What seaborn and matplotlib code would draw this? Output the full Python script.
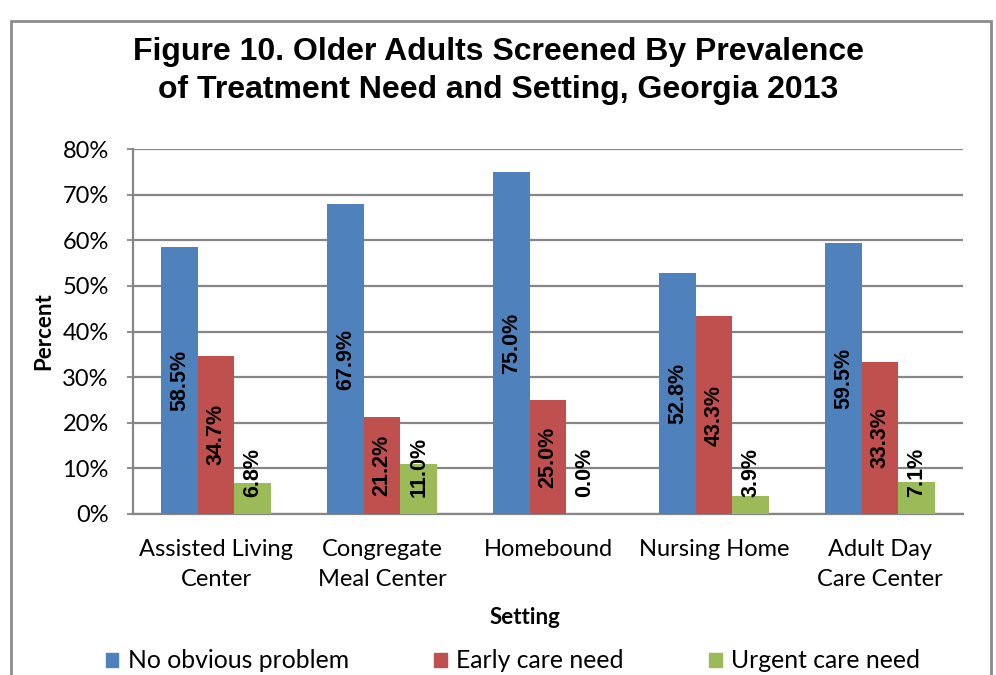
import matplotlib
matplotlib.use("Agg")
import matplotlib.pyplot as plt
from matplotlib.patches import Rectangle
import seaborn as sns
import pandas as pd

settings = ["Assisted Living\nCenter", "Congregate\nMeal Center", "Homebound",
            "Nursing Home", "Adult Day\nCare Center"]
no_problem = [58.5, 67.9, 75.0, 52.8, 59.5]
early_care = [34.7, 21.2, 25.0, 43.3, 33.3]
urgent_care = [6.8, 11.0, 0.0, 3.9, 7.1]
series_names = ["No obvious problem", "Early care need", "Urgent care need"]
colors = ["#4F81BD", "#C0504D", "#9BBB59"]
y_ticks = [0, 10, 20, 30, 40, 50, 60, 70, 80]

rows = []
for name, vals in zip(series_names, [no_problem, early_care, urgent_care]):
    for s, v in zip(settings, vals):
        rows.append({"Setting": s, "Series": name, "Percent": v})
df = pd.DataFrame(rows)

sns.set_theme(style="white")
plt.rcParams.update({"text.color": "black", "axes.labelcolor": "black",
                     "xtick.color": "black", "ytick.color": "black"})
label_font = ["Lato", "DejaVu Sans"]
bold_font = ["Liberation Sans", "DejaVu Sans"]

fig = plt.figure(figsize=(9.96, 6.75), dpi=100)
ax = fig.add_axes([133 / 996, 1 - 514 / 675, 830 / 996, 365 / 675])

sns.barplot(data=df, x="Setting", y="Percent", hue="Series", palette=colors,
            order=settings, hue_order=series_names, width=0.663, gap=0,
            errorbar=None, saturation=1, ax=ax, legend=False, zorder=3,
            linewidth=0)

ax.set_ylim(0, 80)
ax.set_xlim(-0.5, len(settings) - 0.5)
ax.set_yticks(y_ticks)
ax.set_yticklabels([f"{t}%" for t in y_ticks], fontsize=17, family=label_font)
ax.set_xticks(range(len(settings)))
ax.set_xticklabels(settings, fontsize=17, family=label_font, linespacing=1.5)
ax.tick_params(axis="y", length=4.5, width=1.3, color="#868686", labelcolor="black",
               pad=13, left=True)
ax.tick_params(axis="x", length=0, pad=18, labelcolor="black")
ax.yaxis.grid(True, color="#868686", linewidth=1.6, zorder=0)
ax.set_axisbelow(True)
for side in ["top", "right"]:
    ax.spines[side].set_visible(False)
for side in ["left", "bottom"]:
    ax.spines[side].set_color("#868686")
    ax.spines[side].set_linewidth(1.6)

ax.set_xlabel("")
ax.set_ylabel("Percent", fontsize=16, fontweight="bold", family=label_font,
              labelpad=6, color="black")

# value labels, centred in each bar; short bars get the label lifted off the axis
for cont in ax.containers:
    for patch in cont:
        v = patch.get_height()
        xc = patch.get_x() + patch.get_width() / 2
        if v / 2 < 10:
            ax.text(xc, 3.7, f"{v:.1f}%", rotation=90, ha="center", va="bottom",
                    fontsize=15.5, fontweight="bold", family=bold_font,
                    color="black", zorder=5)
        else:
            ax.text(xc, v / 2, f"{v:.1f}%", rotation=90, ha="center", va="center",
                    fontsize=15.5, fontweight="bold", family=bold_font,
                    color="black", zorder=5)

fig.text(0.5, 1 - 71 / 675, "Figure 10. Older Adults Screened By Prevalence\nof Treatment Need and Setting, Georgia 2013",
         ha="center", va="center", fontsize=23, fontweight="bold", family=bold_font,
         linespacing=1.33, color="black")
fig.text(525 / 996, 1 - 617 / 675, "Setting", ha="center", va="center",
         fontsize=16, fontweight="bold", family=label_font, color="black")

# legend along the bottom
handles = [Rectangle((0, 0), 1, 1, color=c) for c in colors]
leg = fig.legend(handles, series_names, loc="center", bbox_to_anchor=(513 / 996, 1 - 661 / 675),
                 ncol=3, frameon=False, prop={"family": label_font, "size": 17.8},
                 handlelength=0.5, handleheight=0.5, handletextpad=0.4, columnspacing=3.45)
for t in leg.get_texts():
    t.set_color("black")

# chart border
fig.add_artist(Rectangle((11 / 996, -0.05), 980 / 996, 1.05 - 21 / 675,
                         transform=fig.transFigure, fill=False,
                         edgecolor="#8c8c8c", linewidth=2))

fig.savefig("out.png", dpi=100)
